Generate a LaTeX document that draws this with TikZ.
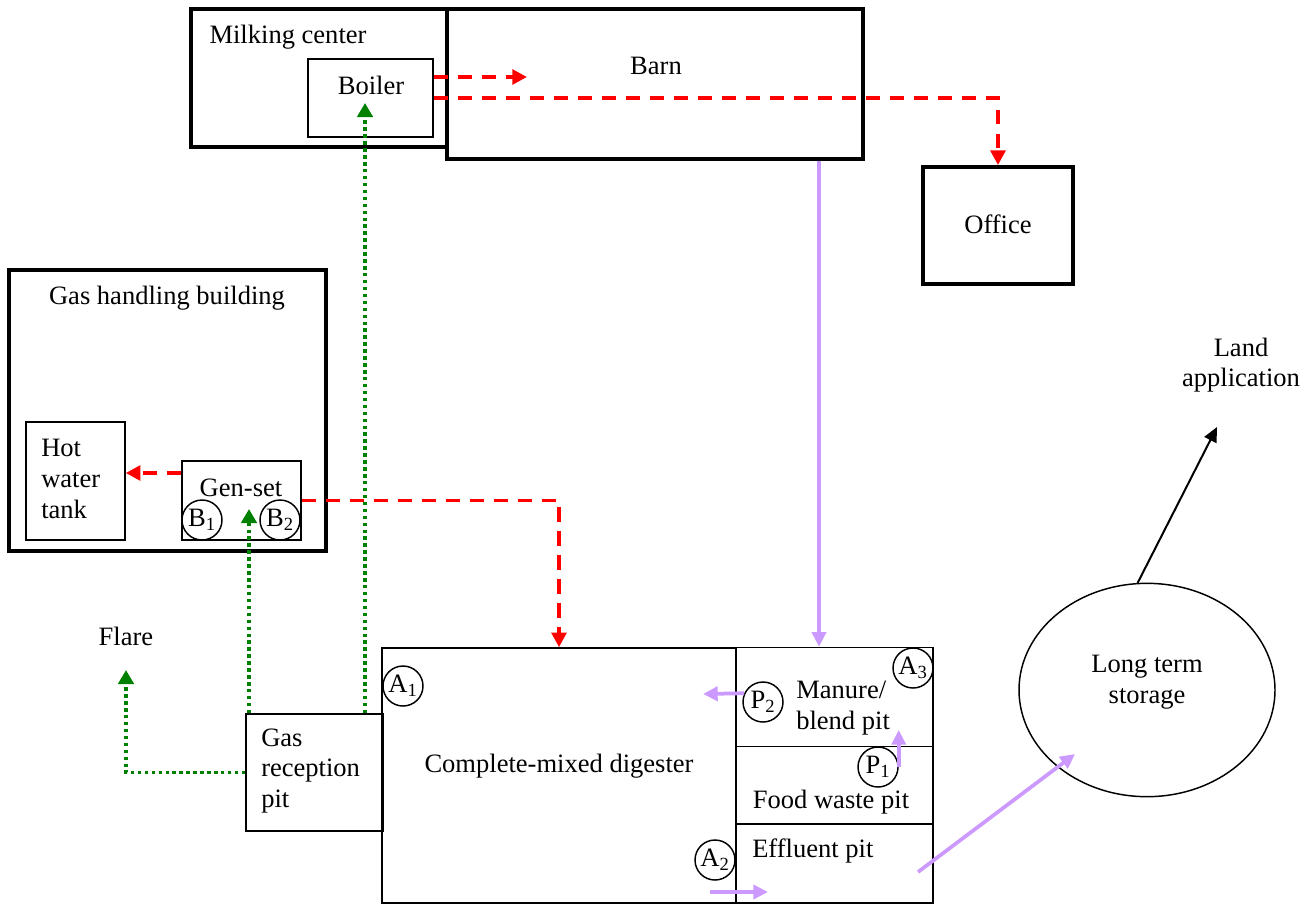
\documentclass[tikz,border=0pt]{standalone}
\usepackage{fontspec}
\setmainfont{Liberation Serif}
\usetikzlibrary{arrows.meta,shapes.geometric}
\definecolor{heatred}{RGB}{255,0,0}
\definecolor{gasgreen}{RGB}{0,128,0}
\definecolor{slurrylilac}{RGB}{204,153,255}
\tikzset{
  building/.style={draw, line width=2.6pt, inner sep=0pt},
  unit/.style={draw, line width=1.1pt, inner sep=0pt},
  valve/.style={circle, draw, line width=1.1pt, minimum size=30pt, inner sep=0pt},
  tag/.style={inner sep=0pt, align=center},
  heatline/.style={-{Triangle[length=11pt,width=11pt]}, draw=heatred,
    line width=2.8pt, dash pattern=on 11pt off 7pt},
  gasline/.style={-{Triangle[length=10.5pt,width=11.5pt]}, draw=gasgreen,
    line width=2.8pt, dash pattern=on 2.6pt off 2.6pt},
  slurry/.style={-{Triangle[length=11pt,width=10.5pt]}, draw=slurrylilac,
    line width=2.8pt},
  landflow/.style={-{Triangle[length=11pt,width=10pt]}, line width=1.5pt}
}

\begin{document}
\begin{tikzpicture}[x=0.75pt,y=-0.75pt,
  every node/.style={font=\fontsize{19.9pt}{23pt}\selectfont}]
  \useasboundingbox (0,0) rectangle (1308,904);

  % buildings
  \node[building,minimum width=192pt,minimum height=103.5pt] (milking) at (319,78) {};
  \node[building,minimum width=312pt,minimum height=112.5pt] (barn) at (655,84) {};
  \node[building,minimum width=112.5pt,minimum height=88pt] (office) at (998,225.5) {};
  \node[building,minimum width=237.75pt,minimum height=210.75pt] (gashall) at (167.5,410.5) {};

  \node[tag] (milkinglabel) at (288,37) {Milking center};
  \node[tag] (barnlabel) at (656,66) {Barn};
  \node[tag] (officelabel) at (998,224) {Office};
  \node[tag] (gashalllabel) at (167,298) {Gas handling building};

  % equipment
  \node[unit,minimum width=93.75pt,minimum height=58.5pt] (boiler) at (370.5,98) {};
  \node[tag] (boilerlabel) at (371,85) {Boiler};
  \node[unit,minimum width=74.25pt,minimum height=88.5pt] (hottank) at (75.5,481) {};
  \node[tag,anchor=west,align=left] (hottanklabel) at (41,479) {Hot\\water\\tank};
  \node[unit,minimum width=89.25pt,minimum height=59.25pt] (genset) at (241.5,500.5) {};
  \node[tag] (gensetlabel) at (241,488) {Gen-set};
  \node[valve] (bone) at (202,520) {B\textsubscript{1}};
  \node[valve] (btwo) at (280,520) {B\textsubscript{2}};

  \node[tag] (flare) at (126,636) {Flare};
  \node[unit,minimum width=102.75pt,minimum height=87.75pt] (gaspit) at (314.5,772.5) {};
  \node[tag,anchor=west,align=left] (gaspitlabel) at (261,771) {Gas\\reception\\pit};

  % digester and pits
  \node[unit,minimum width=265.5pt,minimum height=191.25pt] (digester) at (559,775.5) {};
  \node[unit,minimum width=147.75pt,minimum height=74.25pt] (manurepit) at (834.5,697) {};
  \node[unit,minimum width=147.75pt,minimum height=57.75pt] (foodpit) at (834.5,785) {};
  \node[unit,minimum width=147.75pt,minimum height=59.25pt] (effluentpit) at (834.5,863.5) {};
  \node[tag] (digesterlabel) at (559,766) {Complete-mixed digester};
  \node[tag,anchor=west,align=left] (manurelabel) at (796,708) {Manure/\\blend pit};
  \node[tag] (foodlabel) at (831,802) {Food waste pit};
  \node[tag,anchor=west] (effluentlabel) at (752,851) {Effluent pit};
  \node[valve] (aone) at (403,686) {A\textsubscript{1}};
  \node[valve] (atwo) at (715,860) {A\textsubscript{2}};
  \node[valve] (athree) at (913,668) {A\textsubscript{3}};
  \node[valve] (ptwo) at (763,702) {P\textsubscript{2}};
  \node[valve] (pone) at (878,767) {P\textsubscript{1}};

  % storage
  \node[ellipse,draw,line width=1.1pt,minimum width=192pt,minimum height=160pt,
    inner sep=0pt] (storage) at (1147,690) {};
  \node[tag] (storagelabel) at (1147,682) {Long term\\storage};
  \node[tag] (land) at (1241,365) {Land\\application};

  % free ends
  \coordinate (barnin) at (527,77);
  \coordinate (boilerin) at (365,103);
  \coordinate (gensetin) at (249,509);
  \coordinate (flarein) at (126,670);
  \coordinate (digesterin) at (703,694);
  \coordinate (spill) at (710,892);
  \coordinate (effluentin) at (768,892);
  \coordinate (effluentout) at (918,872);
  \coordinate (storagein) at (1075,754);
  \coordinate (landin) at (1217,427);

  % heat
  \draw[heatline] (boiler.east |- barnin) -- (barnin);
  \draw[heatline] (boiler.east) -| (office.north);
  \draw[heatline] (genset.west |- 0,473) -- (hottank.east |- 0,473);
  \draw[heatline] (genset.east) -| (digester.north);

  % gas
  \draw[gasline] (gaspit.north -| gensetin) -- (gensetin);
  \draw[gasline] (gaspit.north -| boilerin) -- (boilerin);
  \draw[gasline] (gaspit.west) -| (flarein);

  % slurry
  \draw[slurry] (barn.south -| 819,0) -- (manurepit.north -| 819,0);
  \draw[slurry] (ptwo.155) -- (digesterin);
  \draw[slurry] (pone.east) -- (pone.east |- 0,730);
  \draw[slurry] (spill) -- (effluentin);
  \draw[slurry] (effluentout) -- (storagein);
  \draw[landflow] (storage.95) -- (landin);
\end{tikzpicture}
\end{document}
